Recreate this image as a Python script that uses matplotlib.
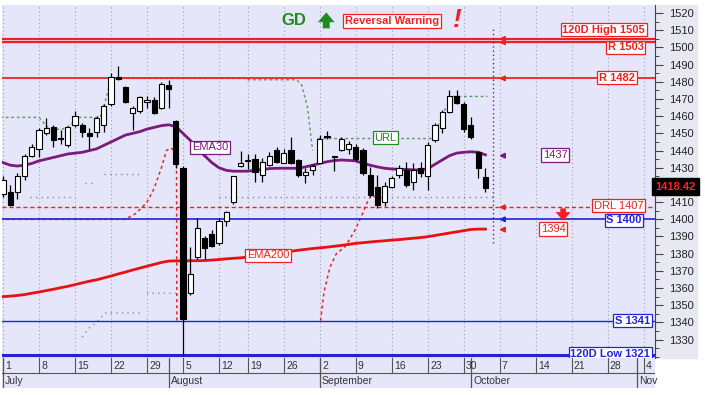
import numpy as np
import matplotlib
matplotlib.use("Agg")
import matplotlib.pyplot as plt
from matplotlib.patches import Rectangle
from matplotlib.ticker import MultipleLocator
from matplotlib.transforms import blended_transform_factory

plt.rcParams['font.family'] = ['Liberation Sans', 'DejaVu Sans']

# daily candles, x = trading day counted from 1 July
opens = [1415, 1416, 1416, 1425, 1437, 1441, 1450, 1454, 1447.5, 1443,
         1455, 1455, 1450, 1451, 1455, 1467, 1483, 1477, 1462, 1463,
         1468, 1469.5, 1465, 1478, 1457, 1430, 1357, 1378, 1389, 1391.5,
         1386, 1399, 1410, 1431, 1434, 1435, 1426, 1431.5, 1440.5, 1433,
         1440.5, 1434.5, 1426, 1428.7, 1433, 1448.3, 1436.5, 1440.5, 1440.7, 1442,
         1440.5, 1425.8, 1419, 1410.2, 1419, 1426, 1428.7, 1422, 1429.7, 1425,
         1446, 1453, 1462.6, 1471.7, 1467, 1455, 1439.3, 1424.8]
highs = [1425, 1420, 1427, 1438, 1444, 1453, 1459, 1455, 1452, 1454,
         1463, 1456, 1453, 1460, 1467, 1485, 1489, 1477.5, 1466, 1472,
         1472, 1471, 1480, 1481, 1458, 1431, 1384, 1401, 1390, 1394,
         1401, 1405, 1425, 1440, 1438, 1438, 1435.5, 1439, 1442, 1441,
         1448, 1435, 1429.7, 1432, 1449, 1451.5, 1437, 1448, 1445.5, 1444,
         1441.5, 1430.5, 1426, 1422, 1425, 1431.6, 1433.5, 1432.7, 1433.5, 1445,
         1456, 1463.5, 1475, 1475, 1468, 1459.7, 1440, 1429.7]
lows = [1413, 1407.5, 1412, 1423, 1436, 1436, 1449, 1442, 1444, 1442,
        1454, 1448, 1441, 1448, 1451, 1466, 1481, 1467.5, 1452, 1462,
        1465, 1461, 1464, 1465, 1430, 1321, 1356, 1377, 1377, 1384,
        1385, 1396, 1409, 1430.5, 1429, 1422, 1422, 1431, 1433, 1432.5,
        1432, 1424.5, 1421, 1426, 1432.5, 1446.5, 1428, 1440, 1438, 1434,
        1426, 1413, 1406.5, 1408, 1418, 1424, 1419, 1417, 1424.8, 1417,
        1445, 1450, 1462, 1467, 1451, 1447, 1424, 1416]
closes = [1423, 1408.5, 1425, 1437, 1442, 1452, 1453, 1446, 1447, 1454,
          1460, 1451, 1448.5, 1459, 1466, 1483, 1481.5, 1468, 1465, 1471,
          1469.5, 1462, 1479, 1476, 1432, 1342, 1368, 1395, 1383.5, 1384.5,
          1399, 1404, 1425, 1433, 1434.5, 1427.5, 1433.5, 1437, 1433.5, 1438.5,
          1433, 1426, 1427.7, 1431, 1446.5, 1448, 1436.2, 1447, 1444, 1435,
          1427, 1414.2, 1408.5, 1419.4, 1424, 1429.7, 1420, 1428.7, 1426.8, 1443.2,
          1455, 1462.6, 1471.7, 1467.5, 1452.4, 1447.7, 1429.7, 1418.42]

ema30 = [1433, 1431.5, 1431, 1431.5, 1432.5, 1434, 1435, 1436, 1437, 1438,
         1438.5, 1439, 1440, 1441, 1443, 1445, 1447, 1449, 1450, 1451,
         1452.5, 1453.5, 1454.5, 1455, 1454, 1450, 1446, 1441, 1437, 1433,
         1430, 1428.5, 1428, 1428, 1428, 1428.5, 1429, 1429.5, 1429.7, 1429.7,
         1429.7, 1429.7, 1430.5, 1431.5, 1432.5, 1433.5, 1434.2, 1434.5, 1434.3, 1434,
         1432.5, 1431.5, 1430.5, 1429.7, 1429.3, 1429.1, 1429, 1428.8, 1428.7, 1429.5,
         1432, 1434.5, 1437, 1438.5, 1439, 1439.3, 1439, 1437.5]
ema200 = [1355, 1355.3, 1355.7, 1356.2, 1357, 1357.7, 1358.5, 1359.3, 1360.2, 1361,
          1362, 1363, 1364, 1364.8, 1365.9, 1367, 1368.2, 1369.3, 1370.5, 1371.6,
          1372.7, 1373.8, 1374.9, 1375.7, 1375.8, 1375.8, 1375.9, 1375.9, 1376, 1376.3,
          1376.6, 1377, 1377.3, 1377.6, 1378, 1378.5, 1379, 1379.5, 1380.2, 1380.8,
          1381.4, 1382, 1382.5, 1383, 1383.4, 1383.8, 1384.3, 1384.8, 1385.4, 1386,
          1386.4, 1386.8, 1387.2, 1387.5, 1387.9, 1388.2, 1388.6, 1389, 1389.4, 1389.9,
          1390.6, 1391.3, 1392, 1392.7, 1393.4, 1394.1, 1394.3, 1394.3]

# upper trailing line (URL)
url_t = [-0.4, 5, 5.5, 6, 8, 9.5, 10, 13.5, 14.3, 15, 34, 34.01, 40.8, 41.5, 42.3, 43,
         np.nan, 43.7, 59.5, 60.5, 61.5, 62.5, 67.3]
url_v = [1459.3, 1459.3, 1457, 1454, 1452, 1455, 1459.3, 1459.3, 1470, 1482, 1482,
         1481.2, 1481.2, 1478, 1465, 1440, np.nan, 1447, 1447, 1455, 1465, 1471.5, 1471.5]
# lower trailing line
trail_t = [-0.4, 17, 18.5, 20, 21, 22, 22.7, 23.3, 23.8, 24.1, 24.15, np.nan, 44.1, 44.6,
           45.4, 46.3, 47.5, 48.8, 49.8, 50.6, 51.2, 51.6, 52]
trail_v = [1400, 1400, 1403.5, 1410, 1418, 1430, 1440, 1441.5, 1440, 1434, 1341, np.nan,
           1341, 1358, 1372, 1380, 1384, 1393, 1402, 1410, 1414.5, 1413, 1408]
# grey dotted levels
dots_hi_t = [3.8, 10, np.nan, 11.4, 12.5, np.nan, 14, 19.3, np.nan, 30, 68]
dots_hi_v = [1413, 1413, np.nan, 1421, 1421, np.nan, 1426.5, 1426.5, np.nan, 1413, 1413]
dots_lo_t = [11, 12, 13, 14.2, 19, np.nan, 20, 24]
dots_lo_v = [1331.5, 1336.8, 1340, 1345.5, 1345.5, np.nan, 1357, 1357]

week_pos = [0, 5, 10, 15, 20, 25, 30, 34, 39, 44, 49, 54, 59, 64, 69, 74, 79, 84, 89]
week_lbl = ['1', '8', '15', '22', '29', '5', '12', '19', '26', '2', '9', '16', '23',
            '30', '7', '14', '21', '28', '4']
month_pos = [0, 23, 44, 65, 88]
month_lbl = ['July', 'August', 'September', 'October', 'Nov']

RED = '#EE2222'
BLUE = '#2222DD'
PURPLE = '#7A1A7A'
GREEN = '#1E8C1E'
BG = '#E6E6FA'

fig = plt.figure(figsize=(7.05, 3.95), dpi=100, facecolor='white')
fig.patches.append(Rectangle((655 / 705, 37 / 395), 42 / 705, 353 / 395,
                             transform=fig.transFigure, color='#E8E8F2', zorder=-5))
ax = fig.add_axes([2 / 705, 37 / 395, 653 / 705, 353 / 395])
ax.set_facecolor(BG)
ax.set_xlim(-0.14, 90.56)
ax.set_ylim(1319.3, 1524.7)

for p in week_pos:
    ax.axvline(p, color='#A0A0B0', ls=(0, (1, 2.5)), lw=0.8, zorder=0)

x = np.arange(len(closes))
o = np.array(opens)
c = np.array(closes)
ax.plot(x, ema200, color='#E81010', lw=2, zorder=2)
ax.plot(x, ema30, color=PURPLE, lw=2, zorder=2)
ax.plot(url_t, url_v, color='#5A9A5A', ls=(0, (2, 2)), lw=1, zorder=1)
ax.plot(trail_t, trail_v, color=RED, ls=(0, (2, 2)), lw=1.1, zorder=1)
ax.plot(dots_hi_t, dots_hi_v, color='#8888A0', ls=(0, (1, 3)), lw=1, zorder=1)
ax.plot(dots_lo_t, dots_lo_v, color='#8888A0', ls=(0, (1, 3)), lw=1, zorder=1)

ax.vlines(x, lows, highs, color='black', lw=0.9, zorder=3)
body = np.maximum(np.abs(c - o), 0.5)
ax.bar(x, body, bottom=np.minimum(o, c), width=0.7,
       color=np.where(c >= o, 'white', 'black'), edgecolor='black', lw=0.8, zorder=4)

# levels
ax.axhline(1505, color=RED, lw=1.6, zorder=1.5)
ax.axhline(1503, color=RED, lw=1.6, zorder=1.5)
ax.axhline(1482, color=RED, lw=1.3, zorder=1.5)
ax.axhline(1407, color=RED, lw=1, ls=(0, (3, 2)), zorder=1)
ax.axhline(1400, color=BLUE, lw=1.2, zorder=1)
ax.axhline(1341, color=BLUE, lw=1, zorder=1)
ax.axhline(1321, color=BLUE, lw=2.2, zorder=1)
ax.plot([68, 68], [1386, 1512], color=PURPLE, ls=(0, (1, 2)), lw=1, zorder=2)

for v, col in [(1505, RED), (1503, RED), (1482, RED), (1437, PURPLE),
               (1407, RED), (1400, BLUE), (1394, RED)]:
    ax.annotate('', xy=(68.5, v), xytext=(69.9, v),
                arrowprops=dict(arrowstyle='-|>', color=col, lw=1.4, mutation_scale=7))


def label(tx, ty, s, col, ha='right', bold=True, size=8):
    ax.text(tx, ty, s, color=col, ha=ha, va='center', fontsize=size,
            fontweight='bold' if bold else 'normal', zorder=6,
            bbox=dict(boxstyle='square,pad=0.15', fc='white', ec=col, lw=0.9))


label(89.2, 1510.4, '120D High 1505', RED)
label(89.0, 1500, 'R 1503', RED)
label(87.8, 1482.5, 'R 1482', RED)
label(76.7, 1437.4, '1437', PURPLE, ha='center', bold=False)
label(88.9, 1408, 'DRL 1407', RED, bold=False)
label(88.7, 1399.5, 'S 1400', BLUE)
label(76.4, 1394.4, '1394', RED, ha='center', bold=False)
label(89.9, 1341, 'S 1341', BLUE)
label(89.9, 1321.8, '120D Low 1321', BLUE)
label(28.75, 1441.8, 'EMA30', PURPLE, ha='center', bold=False)
label(36.8, 1379, 'EMA200', RED, ha='center', bold=False)
label(53.1, 1447.6, 'URL', GREEN, ha='center', bold=False)
label(54.0, 1515.4, 'Reversal Warning', RED, ha='center')

ax.text(40.4, 1515.4, 'GD', color=GREEN, fontsize=12, fontweight='bold',
        ha='center', va='center')
ax.annotate('', xy=(44.9, 1522), xytext=(44.9, 1509.5),
            arrowprops=dict(arrowstyle='simple,head_length=0.7,head_width=1.2,tail_width=0.5',
                            fc=GREEN, ec='none', mutation_scale=10))
ax.annotate('', xy=(77.8, 1397.5), xytext=(77.8, 1408),
            arrowprops=dict(arrowstyle='simple,head_length=0.7,head_width=1.2,tail_width=0.45',
                            fc=RED, ec='none', mutation_scale=9))
ax.text(63.05, 1516, '!', color=RED, fontsize=19, fontweight='bold', style='italic',
        ha='center', va='center')

ax.yaxis.tick_right()
yt = list(range(1330, 1521, 10))
ax.set_yticks(yt)
# the last-price box sits where the 1420 label would be
ax.set_yticklabels(['' if v == 1420 else str(v) for v in yt])
ax.yaxis.set_minor_locator(MultipleLocator(5))
ax.tick_params(axis='y', which='major', length=6, width=0.8, color='#444',
               labelsize=8, labelcolor='#222', pad=4)
ax.tick_params(axis='y', which='minor', length=3, width=0.7, color='#444')
ax.set_xticks([])
for s in ['top', 'left']:
    ax.spines[s].set_visible(False)
for s in ['right', 'bottom']:
    ax.spines[s].set_color('#444')

tr = blended_transform_factory(ax.transAxes, ax.transData)
ax.text(1.001, closes[-1] + 0.5, '%.2f' % closes[-1], transform=tr, color='#FF2020',
        fontsize=8, fontweight='bold', ha='left', va='center', clip_on=False, zorder=8,
        bbox=dict(boxstyle='square,pad=0.3', fc='black', ec='black'))

# date strip
dax = fig.add_axes([2 / 705, 7 / 395, 653 / 705, 30 / 395])
dax.set_facecolor(BG)
dax.set_xlim(ax.get_xlim())
dax.set_ylim(0, 1)
dax.axis('off')
dax.add_patch(Rectangle((0, 0), 1, 1, transform=dax.transAxes, fc=BG, ec='none'))
dax.axhline(0.5, color='#555', lw=0.8)
for p, s in zip(week_pos, week_lbl):
    dax.plot([p, p], [0.5, 1], color='#555', lw=0.8)
    dax.text(p + 0.3, 0.73, s, fontsize=7.5, color='#333', ha='left', va='center')
for p, s in zip(month_pos, month_lbl):
    dax.plot([p, p], [0, 1], color='#555', lw=0.9)
    dax.text(p + 0.3, 0.24, s, fontsize=7.5, color='#333', ha='left', va='center')

fig.savefig('out.png', dpi=100, facecolor='white')
